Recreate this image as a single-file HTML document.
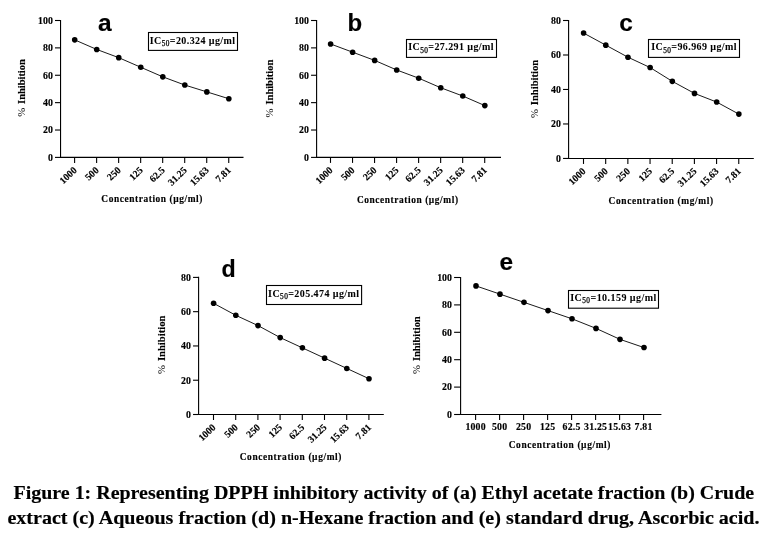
<!DOCTYPE html>
<html><head><meta charset="utf-8"><title>Figure 1</title>
<style>
html,body{margin:0;padding:0;background:#fff}
body{width:768px;height:541px;overflow:hidden;position:relative}
svg{position:absolute;left:0;top:0}
text{fill:#000;stroke:#000;stroke-width:0.15px}
.tk{font:bold 9.8px "Liberation Serif", serif}
.tt{font-family:"Liberation Sans", sans-serif;font-weight:bold}
.ic{font:bold 10px "Liberation Serif", serif;stroke-width:0.05px}
.sub{font-weight:normal;font-size:7.3px;stroke-width:0.25px}
.yl{font:bold 10px "Liberation Serif", serif}
.pct{font:normal 10.5px "Liberation Serif", serif;stroke:none}
.xl{font:bold 9.4px "Liberation Serif", serif}
.cap{font:bold 18px "Liberation Serif", serif}
</style></head><body>
<svg width="768" height="541" viewBox="0 0 768 541">
<path d="M60.55 19.95V157.4H243.5" fill="none" stroke="#000" stroke-width="1.1"/>
<path d="M55.00 157.40H60.55" stroke="#000" stroke-width="1.1"/>
<text x="52.80" y="160.70" text-anchor="end" class="tk">0</text>
<path d="M55.00 130.02H60.55" stroke="#000" stroke-width="1.1"/>
<text x="52.80" y="133.32" text-anchor="end" class="tk">20</text>
<path d="M55.00 102.64H60.55" stroke="#000" stroke-width="1.1"/>
<text x="52.80" y="105.94" text-anchor="end" class="tk">40</text>
<path d="M55.00 75.26H60.55" stroke="#000" stroke-width="1.1"/>
<text x="52.80" y="78.56" text-anchor="end" class="tk">60</text>
<path d="M55.00 47.88H60.55" stroke="#000" stroke-width="1.1"/>
<text x="52.80" y="51.18" text-anchor="end" class="tk">80</text>
<path d="M55.00 20.50H60.55" stroke="#000" stroke-width="1.1"/>
<text x="52.80" y="23.80" text-anchor="end" class="tk">100</text>
<path d="M74.60 157.4V162.90" stroke="#000" stroke-width="1.1"/>
<text transform="translate(77.40 170.90) rotate(-44)" text-anchor="end" class="tk">1000</text>
<path d="M96.62 157.4V162.90" stroke="#000" stroke-width="1.1"/>
<text transform="translate(99.42 170.90) rotate(-44)" text-anchor="end" class="tk">500</text>
<path d="M118.64 157.4V162.90" stroke="#000" stroke-width="1.1"/>
<text transform="translate(121.44 170.90) rotate(-44)" text-anchor="end" class="tk">250</text>
<path d="M140.66 157.4V162.90" stroke="#000" stroke-width="1.1"/>
<text transform="translate(143.46 170.90) rotate(-44)" text-anchor="end" class="tk">125</text>
<path d="M162.68 157.4V162.90" stroke="#000" stroke-width="1.1"/>
<text transform="translate(165.48 170.90) rotate(-44)" text-anchor="end" class="tk">62.5</text>
<path d="M184.70 157.4V162.90" stroke="#000" stroke-width="1.1"/>
<text transform="translate(187.50 170.90) rotate(-44)" text-anchor="end" class="tk">31.25</text>
<path d="M206.72 157.4V162.90" stroke="#000" stroke-width="1.1"/>
<text transform="translate(209.52 170.90) rotate(-44)" text-anchor="end" class="tk">15.63</text>
<path d="M228.74 157.4V162.90" stroke="#000" stroke-width="1.1"/>
<text transform="translate(231.54 170.90) rotate(-44)" text-anchor="end" class="tk">7.81</text>
<polyline points="74.70,39.87 96.72,49.45 118.74,57.66 140.76,67.25 162.78,76.83 184.80,85.04 206.82,91.89 228.84,98.73" fill="none" stroke="#000" stroke-width="0.9"/>
<circle cx="74.70" cy="39.87" r="2.8" fill="#000"/>
<circle cx="96.72" cy="49.45" r="2.8" fill="#000"/>
<circle cx="118.74" cy="57.66" r="2.8" fill="#000"/>
<circle cx="140.76" cy="67.25" r="2.8" fill="#000"/>
<circle cx="162.78" cy="76.83" r="2.8" fill="#000"/>
<circle cx="184.80" cy="85.04" r="2.8" fill="#000"/>
<circle cx="206.82" cy="91.89" r="2.8" fill="#000"/>
<circle cx="228.84" cy="98.73" r="2.8" fill="#000"/>
<text x="104.8" y="31.2" text-anchor="middle" class="tt" style="font-size:24.5px">a</text>
<rect x="148.5" y="32.5" width="89.00" height="17.90" fill="#fff" stroke="#000" stroke-width="1.1"/>
<text x="149.7" y="43.9" textLength="85.40" class="ic">IC<tspan dy="2.5" class="sub">50</tspan><tspan dy="-2.5">=20.324 µg/ml</tspan></text>
<g transform="translate(25.2 116.8) rotate(-90)"><text x="0" y="0" textLength="9" lengthAdjust="spacingAndGlyphs" class="pct">%</text><text x="12.9" y="0" textLength="44.70" lengthAdjust="spacingAndGlyphs" class="yl">Inhibition</text></g>
<text x="101.3" y="202.4" textLength="101.10" class="xl">Concentration (µg/ml)</text>
<path d="M316.6 19.95V157.4H501" fill="none" stroke="#000" stroke-width="1.1"/>
<path d="M311.05 157.40H316.6" stroke="#000" stroke-width="1.1"/>
<text x="308.85" y="160.70" text-anchor="end" class="tk">0</text>
<path d="M311.05 130.02H316.6" stroke="#000" stroke-width="1.1"/>
<text x="308.85" y="133.32" text-anchor="end" class="tk">20</text>
<path d="M311.05 102.64H316.6" stroke="#000" stroke-width="1.1"/>
<text x="308.85" y="105.94" text-anchor="end" class="tk">40</text>
<path d="M311.05 75.26H316.6" stroke="#000" stroke-width="1.1"/>
<text x="308.85" y="78.56" text-anchor="end" class="tk">60</text>
<path d="M311.05 47.88H316.6" stroke="#000" stroke-width="1.1"/>
<text x="308.85" y="51.18" text-anchor="end" class="tk">80</text>
<path d="M311.05 20.50H316.6" stroke="#000" stroke-width="1.1"/>
<text x="308.85" y="23.80" text-anchor="end" class="tk">100</text>
<path d="M330.50 157.4V162.90" stroke="#000" stroke-width="1.1"/>
<text transform="translate(333.30 170.90) rotate(-44)" text-anchor="end" class="tk">1000</text>
<path d="M352.53 157.4V162.90" stroke="#000" stroke-width="1.1"/>
<text transform="translate(355.33 170.90) rotate(-44)" text-anchor="end" class="tk">500</text>
<path d="M374.56 157.4V162.90" stroke="#000" stroke-width="1.1"/>
<text transform="translate(377.36 170.90) rotate(-44)" text-anchor="end" class="tk">250</text>
<path d="M396.59 157.4V162.90" stroke="#000" stroke-width="1.1"/>
<text transform="translate(399.39 170.90) rotate(-44)" text-anchor="end" class="tk">125</text>
<path d="M418.62 157.4V162.90" stroke="#000" stroke-width="1.1"/>
<text transform="translate(421.42 170.90) rotate(-44)" text-anchor="end" class="tk">62.5</text>
<path d="M440.65 157.4V162.90" stroke="#000" stroke-width="1.1"/>
<text transform="translate(443.45 170.90) rotate(-44)" text-anchor="end" class="tk">31.25</text>
<path d="M462.68 157.4V162.90" stroke="#000" stroke-width="1.1"/>
<text transform="translate(465.48 170.90) rotate(-44)" text-anchor="end" class="tk">15.63</text>
<path d="M484.71 157.4V162.90" stroke="#000" stroke-width="1.1"/>
<text transform="translate(487.51 170.90) rotate(-44)" text-anchor="end" class="tk">7.81</text>
<polyline points="330.60,43.97 352.63,52.19 374.66,60.40 396.69,69.98 418.72,78.20 440.75,87.78 462.78,96.00 484.81,105.58" fill="none" stroke="#000" stroke-width="0.9"/>
<circle cx="330.60" cy="43.97" r="2.8" fill="#000"/>
<circle cx="352.63" cy="52.19" r="2.8" fill="#000"/>
<circle cx="374.66" cy="60.40" r="2.8" fill="#000"/>
<circle cx="396.69" cy="69.98" r="2.8" fill="#000"/>
<circle cx="418.72" cy="78.20" r="2.8" fill="#000"/>
<circle cx="440.75" cy="87.78" r="2.8" fill="#000"/>
<circle cx="462.78" cy="96.00" r="2.8" fill="#000"/>
<circle cx="484.81" cy="105.58" r="2.8" fill="#000"/>
<text x="354.8" y="31.1" text-anchor="middle" class="tt" style="font-size:24px">b</text>
<rect x="406.5" y="39.5" width="90.00" height="17.90" fill="#fff" stroke="#000" stroke-width="1.1"/>
<text x="408.2" y="50.1" textLength="85.40" class="ic">IC<tspan dy="2.5" class="sub">50</tspan><tspan dy="-2.5">=27.291 µg/ml</tspan></text>
<g transform="translate(273.2 117.4) rotate(-90)"><text x="0" y="0" textLength="9" lengthAdjust="spacingAndGlyphs" class="pct">%</text><text x="12.9" y="0" textLength="44.80" lengthAdjust="spacingAndGlyphs" class="yl">Inhibition</text></g>
<text x="356.9" y="202.5" textLength="101.10" class="xl">Concentration (µg/ml)</text>
<path d="M568.6 19.95V158.45H753.8" fill="none" stroke="#000" stroke-width="1.1"/>
<path d="M563.05 158.45H568.6" stroke="#000" stroke-width="1.1"/>
<text x="560.85" y="161.75" text-anchor="end" class="tk">0</text>
<path d="M563.05 123.96H568.6" stroke="#000" stroke-width="1.1"/>
<text x="560.85" y="127.26" text-anchor="end" class="tk">20</text>
<path d="M563.05 89.47H568.6" stroke="#000" stroke-width="1.1"/>
<text x="560.85" y="92.77" text-anchor="end" class="tk">40</text>
<path d="M563.05 54.99H568.6" stroke="#000" stroke-width="1.1"/>
<text x="560.85" y="58.29" text-anchor="end" class="tk">60</text>
<path d="M563.05 20.50H568.6" stroke="#000" stroke-width="1.1"/>
<text x="560.85" y="23.80" text-anchor="end" class="tk">80</text>
<path d="M583.50 158.45V163.95" stroke="#000" stroke-width="1.1"/>
<text transform="translate(586.30 171.95) rotate(-44)" text-anchor="end" class="tk">1000</text>
<path d="M605.68 158.45V163.95" stroke="#000" stroke-width="1.1"/>
<text transform="translate(608.48 171.95) rotate(-44)" text-anchor="end" class="tk">500</text>
<path d="M627.86 158.45V163.95" stroke="#000" stroke-width="1.1"/>
<text transform="translate(630.66 171.95) rotate(-44)" text-anchor="end" class="tk">250</text>
<path d="M650.04 158.45V163.95" stroke="#000" stroke-width="1.1"/>
<text transform="translate(652.84 171.95) rotate(-44)" text-anchor="end" class="tk">125</text>
<path d="M672.22 158.45V163.95" stroke="#000" stroke-width="1.1"/>
<text transform="translate(675.02 171.95) rotate(-44)" text-anchor="end" class="tk">62.5</text>
<path d="M694.40 158.45V163.95" stroke="#000" stroke-width="1.1"/>
<text transform="translate(697.20 171.95) rotate(-44)" text-anchor="end" class="tk">31.25</text>
<path d="M716.58 158.45V163.95" stroke="#000" stroke-width="1.1"/>
<text transform="translate(719.38 171.95) rotate(-44)" text-anchor="end" class="tk">15.63</text>
<path d="M738.76 158.45V163.95" stroke="#000" stroke-width="1.1"/>
<text transform="translate(741.56 171.95) rotate(-44)" text-anchor="end" class="tk">7.81</text>
<polyline points="583.60,33.07 605.78,45.14 627.96,57.21 650.14,67.56 672.32,81.35 694.50,93.42 716.68,102.05 738.86,114.12" fill="none" stroke="#000" stroke-width="0.9"/>
<circle cx="583.60" cy="33.07" r="2.8" fill="#000"/>
<circle cx="605.78" cy="45.14" r="2.8" fill="#000"/>
<circle cx="627.96" cy="57.21" r="2.8" fill="#000"/>
<circle cx="650.14" cy="67.56" r="2.8" fill="#000"/>
<circle cx="672.32" cy="81.35" r="2.8" fill="#000"/>
<circle cx="694.50" cy="93.42" r="2.8" fill="#000"/>
<circle cx="716.68" cy="102.05" r="2.8" fill="#000"/>
<circle cx="738.86" cy="114.12" r="2.8" fill="#000"/>
<text x="626" y="31.3" text-anchor="middle" class="tt" style="font-size:24.5px">c</text>
<rect x="648.5" y="39.5" width="91.00" height="17.90" fill="#fff" stroke="#000" stroke-width="1.1"/>
<text x="651.2" y="50.4" textLength="85.40" class="ic">IC<tspan dy="2.5" class="sub">50</tspan><tspan dy="-2.5">=96.969 µg/ml</tspan></text>
<g transform="translate(538 118.1) rotate(-90)"><text x="0" y="0" textLength="9" lengthAdjust="spacingAndGlyphs" class="pct">%</text><text x="12.9" y="0" textLength="45.50" lengthAdjust="spacingAndGlyphs" class="yl">Inhibition</text></g>
<text x="608.6" y="203.5" textLength="104.40" class="xl">Concentration (mg/ml)</text>
<path d="M198.6 276.85V414.5H383.8" fill="none" stroke="#000" stroke-width="1.1"/>
<path d="M193.05 414.50H198.6" stroke="#000" stroke-width="1.1"/>
<text x="190.85" y="417.80" text-anchor="end" class="tk">0</text>
<path d="M193.05 380.23H198.6" stroke="#000" stroke-width="1.1"/>
<text x="190.85" y="383.53" text-anchor="end" class="tk">20</text>
<path d="M193.05 345.95H198.6" stroke="#000" stroke-width="1.1"/>
<text x="190.85" y="349.25" text-anchor="end" class="tk">40</text>
<path d="M193.05 311.67H198.6" stroke="#000" stroke-width="1.1"/>
<text x="190.85" y="314.97" text-anchor="end" class="tk">60</text>
<path d="M193.05 277.40H198.6" stroke="#000" stroke-width="1.1"/>
<text x="190.85" y="280.70" text-anchor="end" class="tk">80</text>
<path d="M213.50 414.5V420.00" stroke="#000" stroke-width="1.1"/>
<text transform="translate(216.30 428.00) rotate(-44)" text-anchor="end" class="tk">1000</text>
<path d="M235.70 414.5V420.00" stroke="#000" stroke-width="1.1"/>
<text transform="translate(238.50 428.00) rotate(-44)" text-anchor="end" class="tk">500</text>
<path d="M257.90 414.5V420.00" stroke="#000" stroke-width="1.1"/>
<text transform="translate(260.70 428.00) rotate(-44)" text-anchor="end" class="tk">250</text>
<path d="M280.10 414.5V420.00" stroke="#000" stroke-width="1.1"/>
<text transform="translate(282.90 428.00) rotate(-44)" text-anchor="end" class="tk">125</text>
<path d="M302.30 414.5V420.00" stroke="#000" stroke-width="1.1"/>
<text transform="translate(305.10 428.00) rotate(-44)" text-anchor="end" class="tk">62.5</text>
<path d="M324.50 414.5V420.00" stroke="#000" stroke-width="1.1"/>
<text transform="translate(327.30 428.00) rotate(-44)" text-anchor="end" class="tk">31.25</text>
<path d="M346.70 414.5V420.00" stroke="#000" stroke-width="1.1"/>
<text transform="translate(349.50 428.00) rotate(-44)" text-anchor="end" class="tk">15.63</text>
<path d="M368.90 414.5V420.00" stroke="#000" stroke-width="1.1"/>
<text transform="translate(371.70 428.00) rotate(-44)" text-anchor="end" class="tk">7.81</text>
<polyline points="213.60,303.31 235.80,315.30 258.00,325.58 280.20,337.58 302.40,347.86 324.60,358.15 346.80,368.43 369.00,378.71" fill="none" stroke="#000" stroke-width="0.9"/>
<circle cx="213.60" cy="303.31" r="2.8" fill="#000"/>
<circle cx="235.80" cy="315.30" r="2.8" fill="#000"/>
<circle cx="258.00" cy="325.58" r="2.8" fill="#000"/>
<circle cx="280.20" cy="337.58" r="2.8" fill="#000"/>
<circle cx="302.40" cy="347.86" r="2.8" fill="#000"/>
<circle cx="324.60" cy="358.15" r="2.8" fill="#000"/>
<circle cx="346.80" cy="368.43" r="2.8" fill="#000"/>
<circle cx="369.00" cy="378.71" r="2.8" fill="#000"/>
<text x="228.7" y="277" text-anchor="middle" class="tt" style="font-size:23.2px">d</text>
<rect x="266.5" y="285.5" width="95.10" height="19.00" fill="#fff" stroke="#000" stroke-width="1.1"/>
<text x="268.1" y="296.9" textLength="91.00" class="ic">IC<tspan dy="2.5" class="sub">50</tspan><tspan dy="-2.5">=205.474 µg/ml</tspan></text>
<g transform="translate(164.6 374) rotate(-90)"><text x="0" y="0" textLength="9" lengthAdjust="spacingAndGlyphs" class="pct">%</text><text x="12.9" y="0" textLength="45.50" lengthAdjust="spacingAndGlyphs" class="yl">Inhibition</text></g>
<text x="239.7" y="460.0" textLength="101.70" class="xl">Concentration (µg/ml)</text>
<path d="M460.6 276.95V414.5H661.4" fill="none" stroke="#000" stroke-width="1.1"/>
<path d="M454.10 414.50H460.6" stroke="#000" stroke-width="1.1"/>
<text x="451.90" y="417.80" text-anchor="end" class="tk">0</text>
<path d="M454.10 387.10H460.6" stroke="#000" stroke-width="1.1"/>
<text x="451.90" y="390.40" text-anchor="end" class="tk">20</text>
<path d="M454.10 359.70H460.6" stroke="#000" stroke-width="1.1"/>
<text x="451.90" y="363.00" text-anchor="end" class="tk">40</text>
<path d="M454.10 332.30H460.6" stroke="#000" stroke-width="1.1"/>
<text x="451.90" y="335.60" text-anchor="end" class="tk">60</text>
<path d="M454.10 304.90H460.6" stroke="#000" stroke-width="1.1"/>
<text x="451.90" y="308.20" text-anchor="end" class="tk">80</text>
<path d="M454.10 277.50H460.6" stroke="#000" stroke-width="1.1"/>
<text x="451.90" y="280.80" text-anchor="end" class="tk">100</text>
<path d="M475.60 414.5V420.00" stroke="#000" stroke-width="1.1"/>
<text x="475.60" y="429.90" text-anchor="middle" class="tk" style="letter-spacing:0.2px">1000</text>
<path d="M499.60 414.5V420.00" stroke="#000" stroke-width="1.1"/>
<text x="499.60" y="429.90" text-anchor="middle" class="tk" style="letter-spacing:0.2px">500</text>
<path d="M523.60 414.5V420.00" stroke="#000" stroke-width="1.1"/>
<text x="523.60" y="429.90" text-anchor="middle" class="tk" style="letter-spacing:0.2px">250</text>
<path d="M547.60 414.5V420.00" stroke="#000" stroke-width="1.1"/>
<text x="547.60" y="429.90" text-anchor="middle" class="tk" style="letter-spacing:0.2px">125</text>
<path d="M571.60 414.5V420.00" stroke="#000" stroke-width="1.1"/>
<text x="571.60" y="429.90" text-anchor="middle" class="tk" style="letter-spacing:0.2px">62.5</text>
<path d="M595.60 414.5V420.00" stroke="#000" stroke-width="1.1"/>
<text x="595.60" y="429.90" text-anchor="middle" class="tk" style="letter-spacing:0.2px">31.25</text>
<path d="M619.60 414.5V420.00" stroke="#000" stroke-width="1.1"/>
<text x="619.60" y="429.90" text-anchor="middle" class="tk" style="letter-spacing:0.2px">15.63</text>
<path d="M643.60 414.5V420.00" stroke="#000" stroke-width="1.1"/>
<text x="643.60" y="429.90" text-anchor="middle" class="tk" style="letter-spacing:0.2px">7.81</text>
<polyline points="476.00,285.92 500.00,294.14 524.00,302.36 548.00,310.58 572.00,318.80 596.00,328.39 620.00,339.35 644.00,347.57" fill="none" stroke="#000" stroke-width="0.9"/>
<circle cx="476.00" cy="285.92" r="2.8" fill="#000"/>
<circle cx="500.00" cy="294.14" r="2.8" fill="#000"/>
<circle cx="524.00" cy="302.36" r="2.8" fill="#000"/>
<circle cx="548.00" cy="310.58" r="2.8" fill="#000"/>
<circle cx="572.00" cy="318.80" r="2.8" fill="#000"/>
<circle cx="596.00" cy="328.39" r="2.8" fill="#000"/>
<circle cx="620.00" cy="339.35" r="2.8" fill="#000"/>
<circle cx="644.00" cy="347.57" r="2.8" fill="#000"/>
<text x="506.2" y="270.4" text-anchor="middle" class="tt" style="font-size:24.5px">e</text>
<rect x="568.5" y="290.5" width="90.00" height="17.70" fill="#fff" stroke="#000" stroke-width="1.1"/>
<text x="570.2" y="300.8" textLength="86.10" class="ic">IC<tspan dy="2.5" class="sub">50</tspan><tspan dy="-2.5">=10.159 µg/ml</tspan></text>
<g transform="translate(420.2 374) rotate(-90)"><text x="0" y="0" textLength="9" lengthAdjust="spacingAndGlyphs" class="pct">%</text><text x="12.9" y="0" textLength="44.80" lengthAdjust="spacingAndGlyphs" class="yl">Inhibition</text></g>
<text x="508.7" y="448.3" textLength="101.70" class="xl">Concentration (µg/ml)</text>
<text x="13.5" y="499.1" textLength="740.6" lengthAdjust="spacingAndGlyphs" class="cap">Figure 1: Representing DPPH inhibitory activity of (a) Ethyl acetate fraction (b) Crude</text>
<text x="7.4" y="523.9" textLength="752.1" lengthAdjust="spacingAndGlyphs" class="cap">extract (c) Aqueous fraction (d) n-Hexane fraction and (e) standard drug, Ascorbic acid.</text>
</svg>
</body></html>
